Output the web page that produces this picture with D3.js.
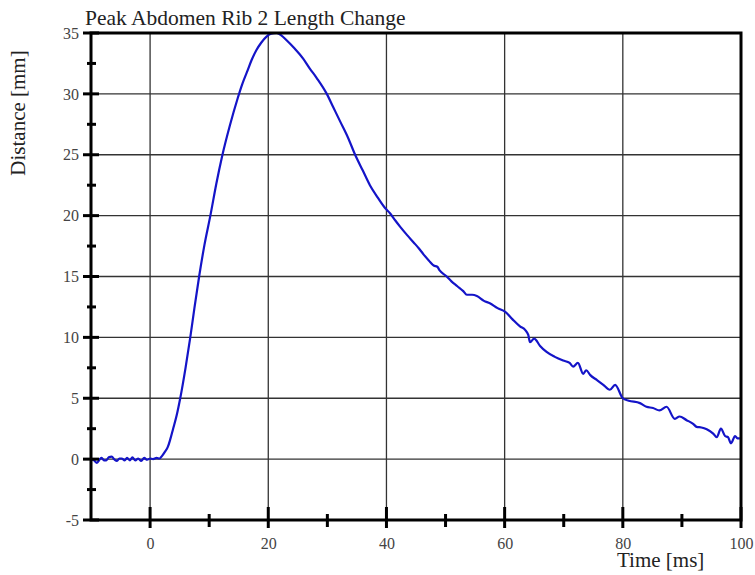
<meta charset="utf-8">
<html>
<script src="https://cdnjs.cloudflare.com/ajax/libs/d3/7.8.5/d3.min.js"></script>
<style>
body { margin: 0; background: #fff; }
svg text { font-family: "Liberation Serif", "Times New Roman", serif; }
</style>
<body>
<svg id="chart" width="755" height="575"></svg>
<script type="text/javascript">

// time [ms] and distance [mm]
var timeMs = [-10, -9.5, -9, -8.5, -8.2, -7.8, -7.4, -7, -6.5, -6, -5.6, -5.2, -4.8, -4.3, -3.9, -3.4, -3, -2.5, -2, -1.5, -1, -0.5,
	0, 0.5, 1.1, 1.6, 2.0, 2.5, 3.0, 3.4, 3.9, 4.5, 5.1, 6.0, 6.8, 7.5, 8.3, 9.2, 10.2, 11.2, 12.2, 13.5, 14.8, 15.6, 16.4, 17.2,
	18.0, 18.8, 19.7, 20.5, 21.4, 22.2, 23.1, 24.5, 25.9, 27.0, 28.2, 29.9, 31.0, 32.2, 33.5, 34.7, 36.0, 37.2, 38.5, 39.8, 40.6, 41.5,
	42.3, 43.5, 44.6, 45.5, 46.3, 47.2, 48.0, 48.6, 49.0, 50.2, 51.0, 52.0, 53.0, 53.6, 54.5, 55.3, 56.5, 57.5, 58.8, 60.1, 61.3,
	62.6, 63.5, 64.0, 64.3, 65.0, 66.0, 67.1, 68.5, 69.9, 71.0, 71.6, 72.4, 73.3, 73.8, 74.5, 75.6, 76.7, 77.8, 78.7, 80.0,
	81.0, 82.9, 84.0, 85.1, 86.2, 87.4, 88.8, 89.6, 90.8, 91.9, 92.5, 93.3, 94.2, 95.3, 95.9, 96.6, 97.3, 97.8, 98.3, 99.0, 99.4, 99.8];

var distanceMm = [0.0, -0.1, -0.3, 0.0, 0.1, -0.1, -0.1, 0.15, 0.2, -0.05, -0.15, 0.05, 0.05, -0.1, 0.1, -0.1, 0.15, -0.1, 0.05, -0.15, 0.1, -0.05,
	0.05, 0.0, 0.1, 0.05, 0.25, 0.6, 1.0, 1.6, 2.5, 3.6, 5.0, 7.5, 10.0, 12.4, 15.0, 17.6, 20.0, 22.6, 24.9, 27.4, 29.6, 30.8, 31.8, 32.8,
	33.6, 34.2, 34.7, 34.95, 35.0, 34.8, 34.4, 33.7, 32.9, 32.1, 31.3, 30.0, 28.9, 27.7, 26.4, 25.0, 23.7, 22.5, 21.5, 20.6, 20.2, 19.6,
	19.1, 18.4, 17.8, 17.3, 16.8, 16.3, 15.9, 15.8, 15.5, 15.0, 14.6, 14.2, 13.8, 13.5, 13.5, 13.4, 13.0, 12.8, 12.4, 12.1, 11.5,
	10.9, 10.6, 10.2, 9.6, 9.9, 9.3, 8.8, 8.4, 8.1, 7.9, 7.6, 7.9, 7.0, 7.3, 6.9, 6.5, 6.1, 5.7, 6.1, 5.0,
	4.8, 4.6, 4.3, 4.2, 4.0, 4.3, 3.3, 3.5, 3.2, 2.9, 2.65, 2.6, 2.45, 2.1, 1.8, 2.5, 1.9, 1.8, 1.3, 1.9, 1.7, 1.7];

var xMajorTicks = [0, 20, 40, 60, 80, 100];
var xMinorTicks = [10, 30, 50, 70, 90];
var yMajorTicks = [-5, 0, 5, 10, 15, 20, 25, 30, 35];
var yMinorTicks = [-2.5, 2.5, 7.5, 12.5, 17.5, 22.5, 27.5, 32.5];
var xGridValues = [0, 20, 40, 60, 80];
var yGridValues = [0, 5, 10, 15, 20, 25, 30];

var chartTitle = "Peak Abdomen Rib 2 Length Change";
var xTitle = "Time [ms]";
var yTitle = "Distance [mm]";

function draw() {
	var svg = d3.select("#chart");
	var pL = 91, pR = 741, pT = 33, pB = 520;

	var x = d3.scaleLinear().domain([-10, 100]).range([pL, pR]);
	var y = d3.scaleLinear().domain([-5, 35]).range([pB, pT]);

	var points = timeMs.map(function(t, i) { return [t, distanceMm[i]]; });

	svg.append("rect").attr("width", 755).attr("height", 575).attr("fill", "#fff");

	// grid
	svg.append("g").selectAll("line").data(xGridValues).enter().append("line")
		.attr("x1", function(d) { return x(d); }).attr("x2", function(d) { return x(d); })
		.attr("y1", pT).attr("y2", pB)
		.attr("stroke", "#333").attr("stroke-width", 1.3);
	svg.append("g").selectAll("line").data(yGridValues).enter().append("line")
		.attr("x1", pL).attr("x2", pR)
		.attr("y1", function(d) { return y(d); }).attr("y2", function(d) { return y(d); })
		.attr("stroke", "#333").attr("stroke-width", 1.3);

	// curve
	var line = d3.line()
		.curve(d3.curveMonotoneX)
		.x(function(d) { return x(d[0]); })
		.y(function(d) { return y(d[1]); });

	svg.append("path").datum(points)
		.attr("d", line)
		.attr("fill", "none")
		.attr("stroke", "#1414c8")
		.attr("stroke-width", 2.2)
		.attr("stroke-linejoin", "round");

	// frame
	svg.append("rect")
		.attr("x", pL).attr("y", pT)
		.attr("width", pR - pL).attr("height", pB - pT)
		.attr("fill", "none").attr("stroke", "#000").attr("stroke-width", 3);

	var plain = function(d) { return String(d); };

	// y ticks
	var yAxis = d3.axisLeft(y).tickValues(yMajorTicks).tickFormat(plain).tickSize(0).tickPadding(12);
	var gy = svg.append("g").attr("transform", "translate(" + pL + ",0)").call(yAxis);
	gy.select(".domain").remove();
	gy.selectAll("text")
		.attr("font-family", "Liberation Serif").attr("font-size", 16).attr("fill", "#444");

	svg.append("g").selectAll("line").data(yMajorTicks).enter().append("line")
		.attr("x1", pL - 8).attr("x2", pL + 8)
		.attr("y1", function(d) { return y(d); }).attr("y2", function(d) { return y(d); })
		.attr("stroke", "#000").attr("stroke-width", 3);
	svg.append("g").selectAll("line").data(yMinorTicks).enter().append("line")
		.attr("x1", pL - 4).attr("x2", pL + 5)
		.attr("y1", function(d) { return y(d); }).attr("y2", function(d) { return y(d); })
		.attr("stroke", "#000").attr("stroke-width", 3);

	// x ticks
	var xAxis = d3.axisBottom(x).tickValues(xMajorTicks).tickFormat(plain).tickSize(0).tickPadding(18);
	var gx = svg.append("g").attr("transform", "translate(0," + pB + ")").call(xAxis);
	gx.select(".domain").remove();
	gx.selectAll("text")
		.attr("font-family", "Liberation Serif").attr("font-size", 16).attr("fill", "#444");

	svg.append("g").selectAll("line").data(xMajorTicks).enter().append("line")
		.attr("x1", function(d) { return x(d); }).attr("x2", function(d) { return x(d); })
		.attr("y1", pB - 13).attr("y2", pB + 8)
		.attr("stroke", "#000").attr("stroke-width", 3);
	svg.append("g").selectAll("line").data(xMinorTicks).enter().append("line")
		.attr("x1", function(d) { return x(d); }).attr("x2", function(d) { return x(d); })
		.attr("y1", pB - 6).attr("y2", pB + 7)
		.attr("stroke", "#000").attr("stroke-width", 3);

	// titles
	svg.append("text").attr("x", 85).attr("y", 25)
		.attr("font-size", 21.5).attr("fill", "#222")
		.text(chartTitle);

	svg.append("text").attr("x", 617).attr("y", 567)
		.attr("font-size", 21).attr("fill", "#222")
		.text(xTitle);

	svg.append("text")
		.attr("transform", "translate(25,113) rotate(-90)")
		.attr("text-anchor", "middle")
		.attr("font-size", 21).attr("fill", "#222")
		.text(yTitle);
}

draw();

</script>
</body>
</html>
